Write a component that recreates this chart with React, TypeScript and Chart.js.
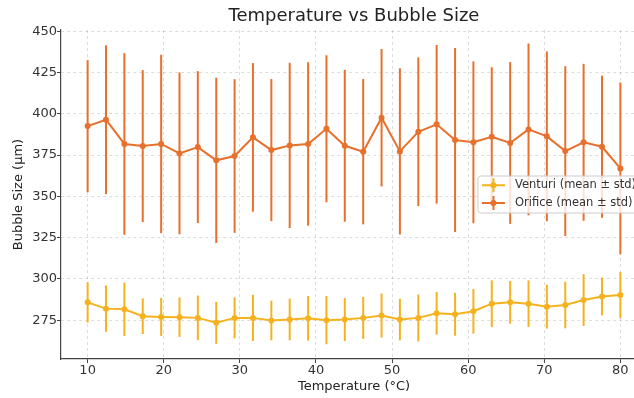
import React, { useEffect, useRef } from "react";
import { Chart, registerables } from "chart.js";

Chart.register(...registerables);

const temperatures = [10, 12.41, 14.83, 17.24, 19.66, 22.07, 24.48, 26.9, 29.31, 31.72, 34.14, 36.55, 38.97, 41.38, 43.79, 46.21, 48.62, 51.03, 53.45, 55.86, 58.28, 60.69, 63.1, 65.52, 67.93, 70.34, 72.76, 75.17, 77.59, 80];
const venturiMean = [285.8, 282.0, 281.6, 277.4, 277.0, 276.8, 276.4, 273.4, 276.4, 276.4, 274.8, 275.4, 276.2, 275.0, 275.4, 276.4, 277.8, 275.4, 276.4, 279.2, 278.6, 280.4, 285.0, 285.8, 285.0, 283.2, 284.2, 287.2, 289.4, 290.2];
const venturiStd = [12.2, 14.0, 16.2, 10.8, 11.5, 12.0, 13.5, 12.7, 12.4, 14.0, 12.0, 12.6, 13.5, 14.6, 13.0, 12.7, 13.3, 12.6, 14.2, 12.9, 13.0, 13.5, 14.1, 12.9, 14.1, 13.3, 14.1, 15.7, 11.4, 14.0];
const orificeMean = [392.5, 396.4, 381.7, 380.4, 381.7, 376.0, 379.8, 371.8, 374.4, 385.7, 378.0, 380.8, 381.7, 390.9, 380.6, 377.0, 397.6, 377.2, 389.1, 393.6, 384.1, 382.7, 386.1, 382.3, 390.5, 386.3, 377.4, 382.7, 380.0, 366.9];
const orificeStd = [40.0, 45.0, 55.0, 46.0, 54.0, 49.0, 46.0, 50.0, 46.5, 45.0, 43.0, 50.0, 49.5, 44.5, 46.0, 44.0, 41.6, 50.3, 45.0, 48.0, 55.7, 49.0, 42.0, 49.0, 52.0, 51.4, 51.4, 47.5, 43.0, 52.0];

const xTicks = [10, 20, 30, 40, 50, 60, 70, 80];
const yTicks = [275, 300, 325, 350, 375, 400, 425, 450];
const seriesNames = ["Venturi (mean ± std)", "Orifice (mean ± std)"];
const seriesColors = ["#f5b21e", "#e8702d"];
const titleText = "Temperature vs Bubble Size";
const xLabel = "Temperature (°C)";
const yLabel = "Bubble Size (µm)";

const FONT = "'DejaVu Sans', sans-serif";

const errorBarPlugin = {
  id: "errorBars",
  beforeDatasetDraw(chart: any, args: any) {
    const ds = chart.data.datasets[args.index];
    const errs: number[] = ds.errors;
    if (!errs) return;
    const xs = chart.scales.x;
    const ys = chart.scales.y;
    const ctx = chart.ctx;
    ctx.save();
    ctx.strokeStyle = ds.borderColor;
    ctx.lineWidth = 2;
    ds.data.forEach((p: any, i: number) => {
      const px = xs.getPixelForValue(p.x);
      const y1 = ys.getPixelForValue(p.y - errs[i]);
      const y2 = ys.getPixelForValue(p.y + errs[i]);
      ctx.beginPath();
      ctx.moveTo(px, y1);
      ctx.lineTo(px, y2);
      ctx.stroke();
    });
    ctx.restore();
  },
};

const overlayPlugin = {
  id: "overlay",
  afterDraw(chart: any) {
    const ctx = chart.ctx;
    const area = chart.chartArea;
    ctx.save();
    // title
    ctx.fillStyle = "#222";
    ctx.font = `18px ${FONT}`;
    ctx.textAlign = "center";
    ctx.textBaseline = "middle";
    ctx.fillText(titleText, (area.left + area.right) / 2, 16);

    // legend
    ctx.font = `11.5px ${FONT}`;
    const textW = Math.max(...seriesNames.map((s) => ctx.measureText(s).width));
    const boxW = 4 + 23 + 10 + textW + 6;
    const boxH = 37;
    const right = area.right - 5;
    const left = right - boxW;
    const cy = (area.top + area.bottom) / 2;
    const top = cy - boxH / 2;
    const r = 3;
    ctx.beginPath();
    ctx.moveTo(left + r, top);
    ctx.lineTo(left + boxW - r, top);
    ctx.quadraticCurveTo(left + boxW, top, left + boxW, top + r);
    ctx.lineTo(left + boxW, top + boxH - r);
    ctx.quadraticCurveTo(left + boxW, top + boxH, left + boxW - r, top + boxH);
    ctx.lineTo(left + r, top + boxH);
    ctx.quadraticCurveTo(left, top + boxH, left, top + boxH - r);
    ctx.lineTo(left, top + r);
    ctx.quadraticCurveTo(left, top, left + r, top);
    ctx.closePath();
    ctx.fillStyle = "rgba(255,255,255,0.8)";
    ctx.fill();
    ctx.strokeStyle = "#cccccc";
    ctx.lineWidth = 1;
    ctx.stroke();

    const rows = [cy - 9.2, cy + 8.5];
    seriesNames.forEach((name, i) => {
      const y = rows[i];
      const hx1 = left + 4;
      const hx2 = hx1 + 23;
      const mx = (hx1 + hx2) / 2;
      ctx.strokeStyle = seriesColors[i];
      ctx.lineWidth = 2;
      ctx.beginPath();
      ctx.moveTo(hx1, y);
      ctx.lineTo(hx2, y);
      ctx.moveTo(mx, y - 7);
      ctx.lineTo(mx, y + 7);
      ctx.stroke();
      ctx.fillStyle = seriesColors[i];
      ctx.beginPath();
      ctx.arc(mx, y, 3, 0, Math.PI * 2);
      ctx.fill();
      ctx.fillStyle = "#333";
      ctx.textAlign = "left";
      ctx.textBaseline = "middle";
      ctx.fillText(name, hx2 + 10, y);
    });
    ctx.restore();
  },
};

export default function App() {
  const ref = useRef<HTMLCanvasElement | null>(null);
  useEffect(() => {
    if (!ref.current) return;
    Chart.defaults.font.family = FONT;
    const mk = (means: number[]) => means.map((m, i) => ({ x: temperatures[i], y: m }));
    const chart = new Chart(ref.current, {
      type: "line",
      data: {
        datasets: [
          {
            label: seriesNames[0],
            data: mk(venturiMean),
            errors: venturiStd,
            borderColor: seriesColors[0],
            backgroundColor: seriesColors[0],
            borderWidth: 2,
            pointRadius: 3,
            pointHoverRadius: 3,
            pointBorderWidth: 0,
            tension: 0,
          } as any,
          {
            label: seriesNames[1],
            data: mk(orificeMean),
            errors: orificeStd,
            borderColor: seriesColors[1],
            backgroundColor: seriesColors[1],
            borderWidth: 2,
            pointRadius: 3,
            pointHoverRadius: 3,
            pointBorderWidth: 0,
            tension: 0,
          } as any,
        ],
      },
      options: {
        responsive: false,
        animation: false,
        layout: { padding: { top: 30, right: 3, left: 0, bottom: 0 } },
        plugins: {
          legend: { display: false },
          title: { display: false },
          tooltip: { enabled: false },
        },
        scales: {
          x: {
            type: "linear",
            min: 6.5,
            max: 83.5,
            afterBuildTicks: (s: any) => {
              s.ticks = xTicks.map((v) => ({ value: v }));
            },
            afterFit: (s: any) => {
              s.height = 39;
            },
            ticks: {
              padding: 0,
              color: "#333",
              font: { size: 13 },
              autoSkip: false,
              maxRotation: 0,
            },
            grid: {
              color: "rgba(0,0,0,0.17)",
              lineWidth: 0.8,
              tickLength: 4,
              tickColor: "#444",
              tickWidth: 1,
            },
            border: { display: true, color: "#444", width: 1.2, dash: [3, 3] },
            title: {
              display: true,
              text: xLabel,
              color: "#222",
              font: { size: 13 },
              padding: { top: 0, bottom: 4 },
            },
          },
          y: {
            type: "linear",
            min: 251.5,
            max: 450.7,
            afterBuildTicks: (s: any) => {
              s.ticks = yTicks.map((v) => ({ value: v }));
            },
            afterFit: (s: any) => {
              s.width = 61;
            },
            ticks: {
              padding: 0,
              color: "#333",
              font: { size: 13 },
              autoSkip: false,
            },
            grid: {
              color: "rgba(0,0,0,0.17)",
              lineWidth: 0.8,
              tickLength: 4,
              tickColor: "#444",
              tickWidth: 1,
            },
            border: { display: true, color: "#444", width: 1.2, dash: [3, 3] },
            title: {
              display: true,
              text: yLabel,
              color: "#222",
              font: { size: 13 },
              padding: { top: 11, bottom: 0 },
            },
          },
        },
      } as any,
      plugins: [errorBarPlugin, overlayPlugin],
    });
    return () => chart.destroy();
  }, []);

  return (
    <div
      style={{
        position: "fixed",
        left: 0,
        top: 0,
        width: 634,
        height: 398,
        overflow: "hidden",
        background: "#fff",
      }}
    >
      <canvas ref={ref} width={650} height={398} style={{ display: "block" }} />
    </div>
  );
}
